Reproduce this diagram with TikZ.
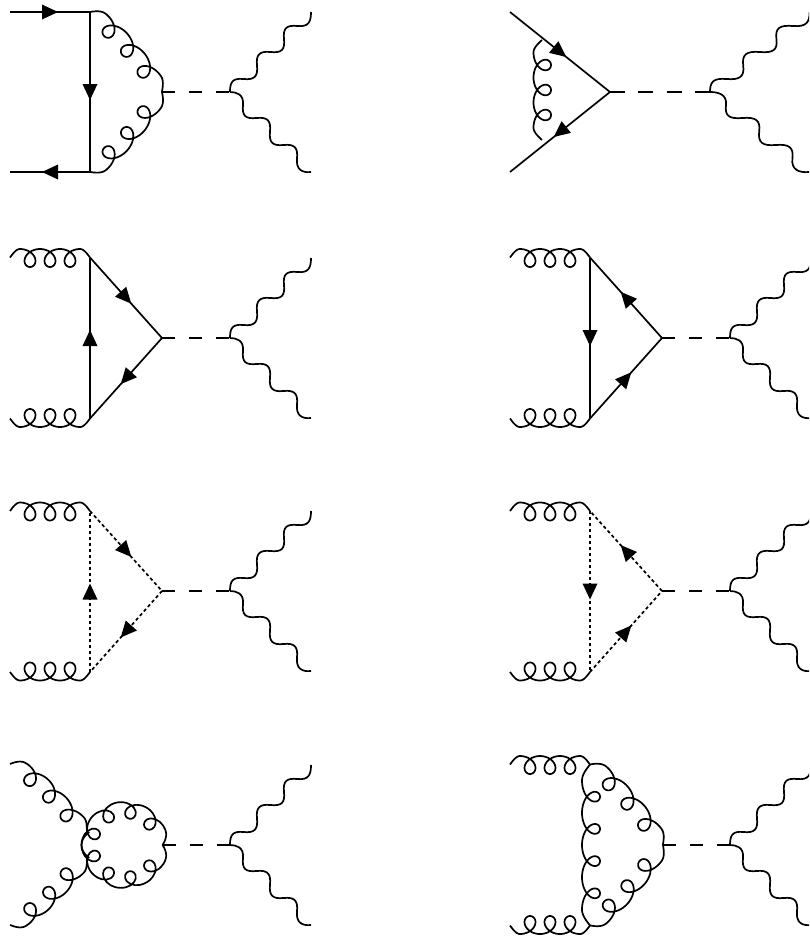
\documentclass[tikz,border=0pt]{standalone}
\usetikzlibrary{decorations.markings}
\makeatletter
\pgfdeclaredecoration{gluonline}{step}{
  \state{step}[switch if less than=.5pt to final,width=.5pt]{
    \pgfmathsetmacro{\gs}{\pgfdecoratedcompleteddistance}
    \pgfmathsetmacro{\gL}{\pgfdecoratedpathlength}
    \pgfmathsetmacro{\gP}{\gL/(\gN+1)}
    \pgfmathsetmacro{\gE}{\gL-\gs}
    \ifdim\gs pt<\dimexpr\gP pt/2\relax
      \def\gx{0}
      \pgfmathsetmacro{\gy}{\gA*sin(\gs/\gP*180)}
    \else
      \ifdim\gE pt<\dimexpr\gP pt/2\relax
        \def\gx{0}
        \pgfmathsetmacro{\gy}{\gA*sin(\gE/\gP*180)}
      \else
        \pgfmathsetmacro{\gphi}{(\gs-\gP/2)/\gP*360}
        \pgfmathsetmacro{\gx}{(3.5+0.27*\gP)*\gW*sin(\gphi)}
        \pgfmathsetmacro{\gy}{(\gA-\gB)/2+(\gA+\gB)/2*cos(\gphi)}
      \fi
    \fi
    \pgfpathlineto{\pgfpoint{\gx pt}{\gy pt}}
  }
  \state{final}{\pgfpathlineto{\pgfpointdecoratedpathlast}}
}
\makeatother
\tikzset{
  gluon/.style n args={4}{decorate,decoration={gluonline},/utils/exec={\def\gN{#1}\def\gA{#2}\def\gB{#3}\def\gW{#4}}},
  fermion/.style={postaction={decorate,decoration={markings,mark=at position .5 with {\fill[solid] (8pt,0pt) -- (-8pt,7.5pt) -- (-8pt,-7.5pt) -- cycle;}}}},
  ghost/.style={dash pattern=on 3.3pt off 2.7pt},
  scalar/.style={dash pattern=on 13pt off 14pt},
  scalarlong/.style={dash pattern=on 15pt off 13.33pt},
}
\newcommand{\wavepair}[4]{% name, x, y, xscale
  \coordinate (#1) at (#2,#3);
  \begin{scope}[shift={(#1)},xscale=#4]
    \draw (0,0) .. controls (0,-10) and (2.5,-14.1) .. (13.5,-13)
      .. controls (24.5,-11.9) and (28.1,-15.5) .. (27,-26.5)
      .. controls (25.9,-37.5) and (29.5,-41.1) .. (40.5,-40)
      .. controls (51.5,-38.9) and (55.1,-42) .. (54,-53)
      .. controls (52.9,-64) and (56.5,-67.1) .. (67.5,-66)
      .. controls (78.5,-64.9) and (81,-70) .. (81,-80);
    \draw (0,0) .. controls (6,0) and (14.1,2) .. (13,13)
      .. controls (11.9,24) and (15.5,27.1) .. (26.5,26)
      .. controls (37.5,24.9) and (41.1,28.5) .. (40,39.5)
      .. controls (38.9,50.5) and (42.5,54.1) .. (53.5,53)
      .. controls (64.5,51.9) and (68.1,55.5) .. (67,66.5)
      .. controls (65.9,77.5) and (72,81) .. (81,80);
  \end{scope}
}
\begin{document}
\begin{tikzpicture}[x=1pt,y=-1pt,line width=1.7pt,line join=round]
\useasboundingbox (0,0) rectangle (809,937);
\clip (0,0) rectangle (809,937);

% Row 1 left
\coordinate (a1) at (10,12); \coordinate (a2) at (90,12); \coordinate (a3) at (90,172);
\coordinate (a4) at (10,172); \coordinate (a5) at (162,92);
\wavepair{aw}{230}{92}{1}
\draw[fermion] (a1) -- (a2);
\draw[fermion] (a2) -- (a3);
\draw[fermion] (a3) -- (a4);
\draw[gluon={3}{7.5}{10.5}{1.07}] (a2) .. controls (112,25) and (142,58) .. (a5);
\draw[gluon={3}{7.5}{10.5}{1.07}] (a5) .. controls (142,126) and (112,159) .. (a3);
\draw[scalar] (a5) -- (aw);

% Row 1 right
\coordinate (b1) at (510,12); \coordinate (b2) at (610,92); \coordinate (b3) at (510,172);
\coordinate (b4) at (542,140); \coordinate (b5) at (542,40);
\wavepair{bw}{710}{92}{1.23}
\draw[fermion] (b1) -- (b2);
\draw[fermion] (b2) -- (b3);
\draw[gluon={3}{8.5}{9}{1.05}] (b4) -- (b5);
\draw[scalarlong] (b2) -- (bw);

% Row 2 left
\coordinate (c1) at (10,257.5); \coordinate (c2) at (90,257.5); \coordinate (c3) at (90,418.5);
\coordinate (c4) at (10,418.5); \coordinate (c5) at (162,338);
\wavepair{cw}{230}{338}{1}
\draw[gluon={3}{8.5}{9.5}{1.12}] (c1) -- (c2);
\draw[gluon={3}{8.5}{9.5}{1.12}] (c3) -- (c4);
\draw[fermion] (c3) -- (c2);
\draw[fermion] (c2) -- (c5);
\draw[fermion] (c5) -- (c3);
\draw[scalar] (c5) -- (cw);

% Row 2 right
\coordinate (d1) at (510,257.5); \coordinate (d2) at (590,257.5); \coordinate (d3) at (590,418.5);
\coordinate (d4) at (510,418.5); \coordinate (d5) at (662,338);
\wavepair{dw}{730}{338}{1}
\draw[gluon={3}{8.5}{9.5}{1.12}] (d1) -- (d2);
\draw[gluon={3}{8.5}{9.5}{1.12}] (d3) -- (d4);
\draw[fermion] (d2) -- (d3);
\draw[fermion] (d5) -- (d2);
\draw[fermion] (d3) -- (d5);
\draw[scalar] (d5) -- (dw);

% Row 3 left
\coordinate (e1) at (10,511); \coordinate (e2) at (90,511); \coordinate (e3) at (90,672);
\coordinate (e4) at (10,672); \coordinate (e5) at (162,591);
\wavepair{ew}{230}{591}{1}
\draw[gluon={3}{8.5}{9.5}{1.12}] (e1) -- (e2);
\draw[gluon={3}{8.5}{9.5}{1.12}] (e3) -- (e4);
\draw[ghost,fermion] (e3) -- (e2);
\draw[ghost,fermion] (e2) -- (e5);
\draw[ghost,fermion] (e5) -- (e3);
\draw[scalar] (e5) -- (ew);

% Row 3 right
\coordinate (f1) at (510,511); \coordinate (f2) at (590,511); \coordinate (f3) at (590,672);
\coordinate (f4) at (510,672); \coordinate (f5) at (662,591);
\wavepair{fw}{730}{591}{1}
\draw[gluon={3}{8.5}{9.5}{1.12}] (f1) -- (f2);
\draw[gluon={3}{8.5}{9.5}{1.12}] (f3) -- (f4);
\draw[ghost,fermion] (f2) -- (f3);
\draw[ghost,fermion] (f5) -- (f2);
\draw[ghost,fermion] (f3) -- (f5);
\draw[scalar] (f5) -- (fw);

% Row 4 left
\coordinate (g1) at (10,764); \coordinate (g2) at (87,832); \coordinate (g3) at (87,858);
\coordinate (g4) at (10,925); \coordinate (g5) at (162.5,845);
\wavepair{gw}{230}{845}{1}
\draw[gluon={3}{7.5}{10.5}{1.07}] (g1) .. controls (40,775) and (62,805) .. (g2);
\draw[gluon={3}{7.5}{10.5}{1.07}] (g3) .. controls (62,885) and (40,914) .. (g4);
\draw[gluon={4}{5.5}{11}{.97}] plot[domain=200:0,samples=80] ({125+(37.5+0.5*\x/200)*cos(\x)},{845-(37.5+0.5*\x/200)*sin(\x)});
\draw[gluon={4}{5.5}{11}{.97}] plot[domain=0:200,samples=80] ({125+(37.5+0.5*\x/200)*cos(\x)},{845+(37.5+0.5*\x/200)*sin(\x)});
\draw[scalar] (g5) -- (gw);

% Row 4 right
\coordinate (h1) at (510,764.5); \coordinate (h2) at (590,764.5); \coordinate (h3) at (590,925.5);
\coordinate (h4) at (510,925.5); \coordinate (h5) at (663,845);
\wavepair{hw}{730}{845}{1}
\draw[gluon={3}{8.5}{9.5}{1.12}] (h1) -- (h2);
\draw[gluon={3}{8.5}{9.5}{1.12}] (h3) -- (h4);
\draw[gluon={4}{8}{10}{.97}] (h3) -- (h2);
\draw[gluon={3}{7.5}{10.5}{1.07}] (h2) .. controls (612,777) and (642,811) .. (h5);
\draw[gluon={3}{7.5}{10.5}{1.07}] (h5) .. controls (642,879) and (612,913) .. (h3);
\draw[scalar] (h5) -- (hw);
\end{tikzpicture}
\end{document}
